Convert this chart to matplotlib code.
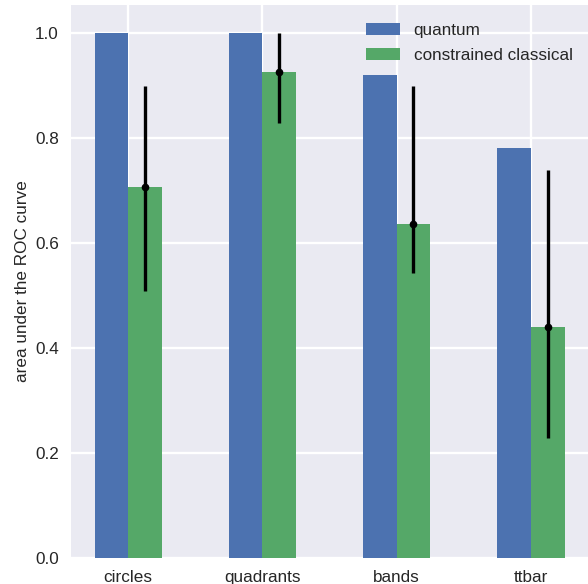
import matplotlib
matplotlib.use("Agg")
import matplotlib.pyplot as plt
import numpy as np

plt.style.use("seaborn-v0_8-darkgrid")
plt.rcParams['font.family'] = ['Liberation Sans', 'DejaVu Sans']
plt.rcParams['grid.linewidth'] = 1.7

categories = ["circles", "quadrants", "bands", "ttbar"]
quantum = [1.0, 1.0, 0.92, 0.781]
classical = [0.707, 0.926, 0.636, 0.440]
classical_low = [0.509, 0.828, 0.542, 0.229]
classical_high = [0.899, 1.0, 0.899, 0.738]

fs = 12.3
fig = plt.figure(figsize=(5.88, 5.84), dpi=100)
ax = fig.add_axes([71/588, 26/584, 517/588, 553/584])

x = np.arange(len(categories))
w = 0.25
ax.bar(x - w/2, quantum, w, color="#4C72B0", label="quantum")
ax.bar(x + w/2, classical, w, color="#55A868", label="constrained classical")
yerr = [np.array(classical) - np.array(classical_low),
        np.array(classical_high) - np.array(classical)]
ax.errorbar(x + w/2, classical, yerr=yerr, fmt="o", color="black",
            markersize=4.5, elinewidth=2.4, capsize=0)

ax.set_xticks(x)
ax.set_xticklabels(categories, fontsize=fs)
ax.tick_params(axis='both', labelsize=fs, pad=8.7)
ax.set_ylabel("area under the ROC curve", fontsize=fs, labelpad=3.5)
ax.set_xlim(-0.425, 3.425)
ax.set_ylim(0, 1.053)
ax.legend(loc="upper right", bbox_to_anchor=(1.0, 1.0 - 3/553), fontsize=fs,
          frameon=False, labelspacing=0.55)

fig.savefig("out.png", dpi=100)
